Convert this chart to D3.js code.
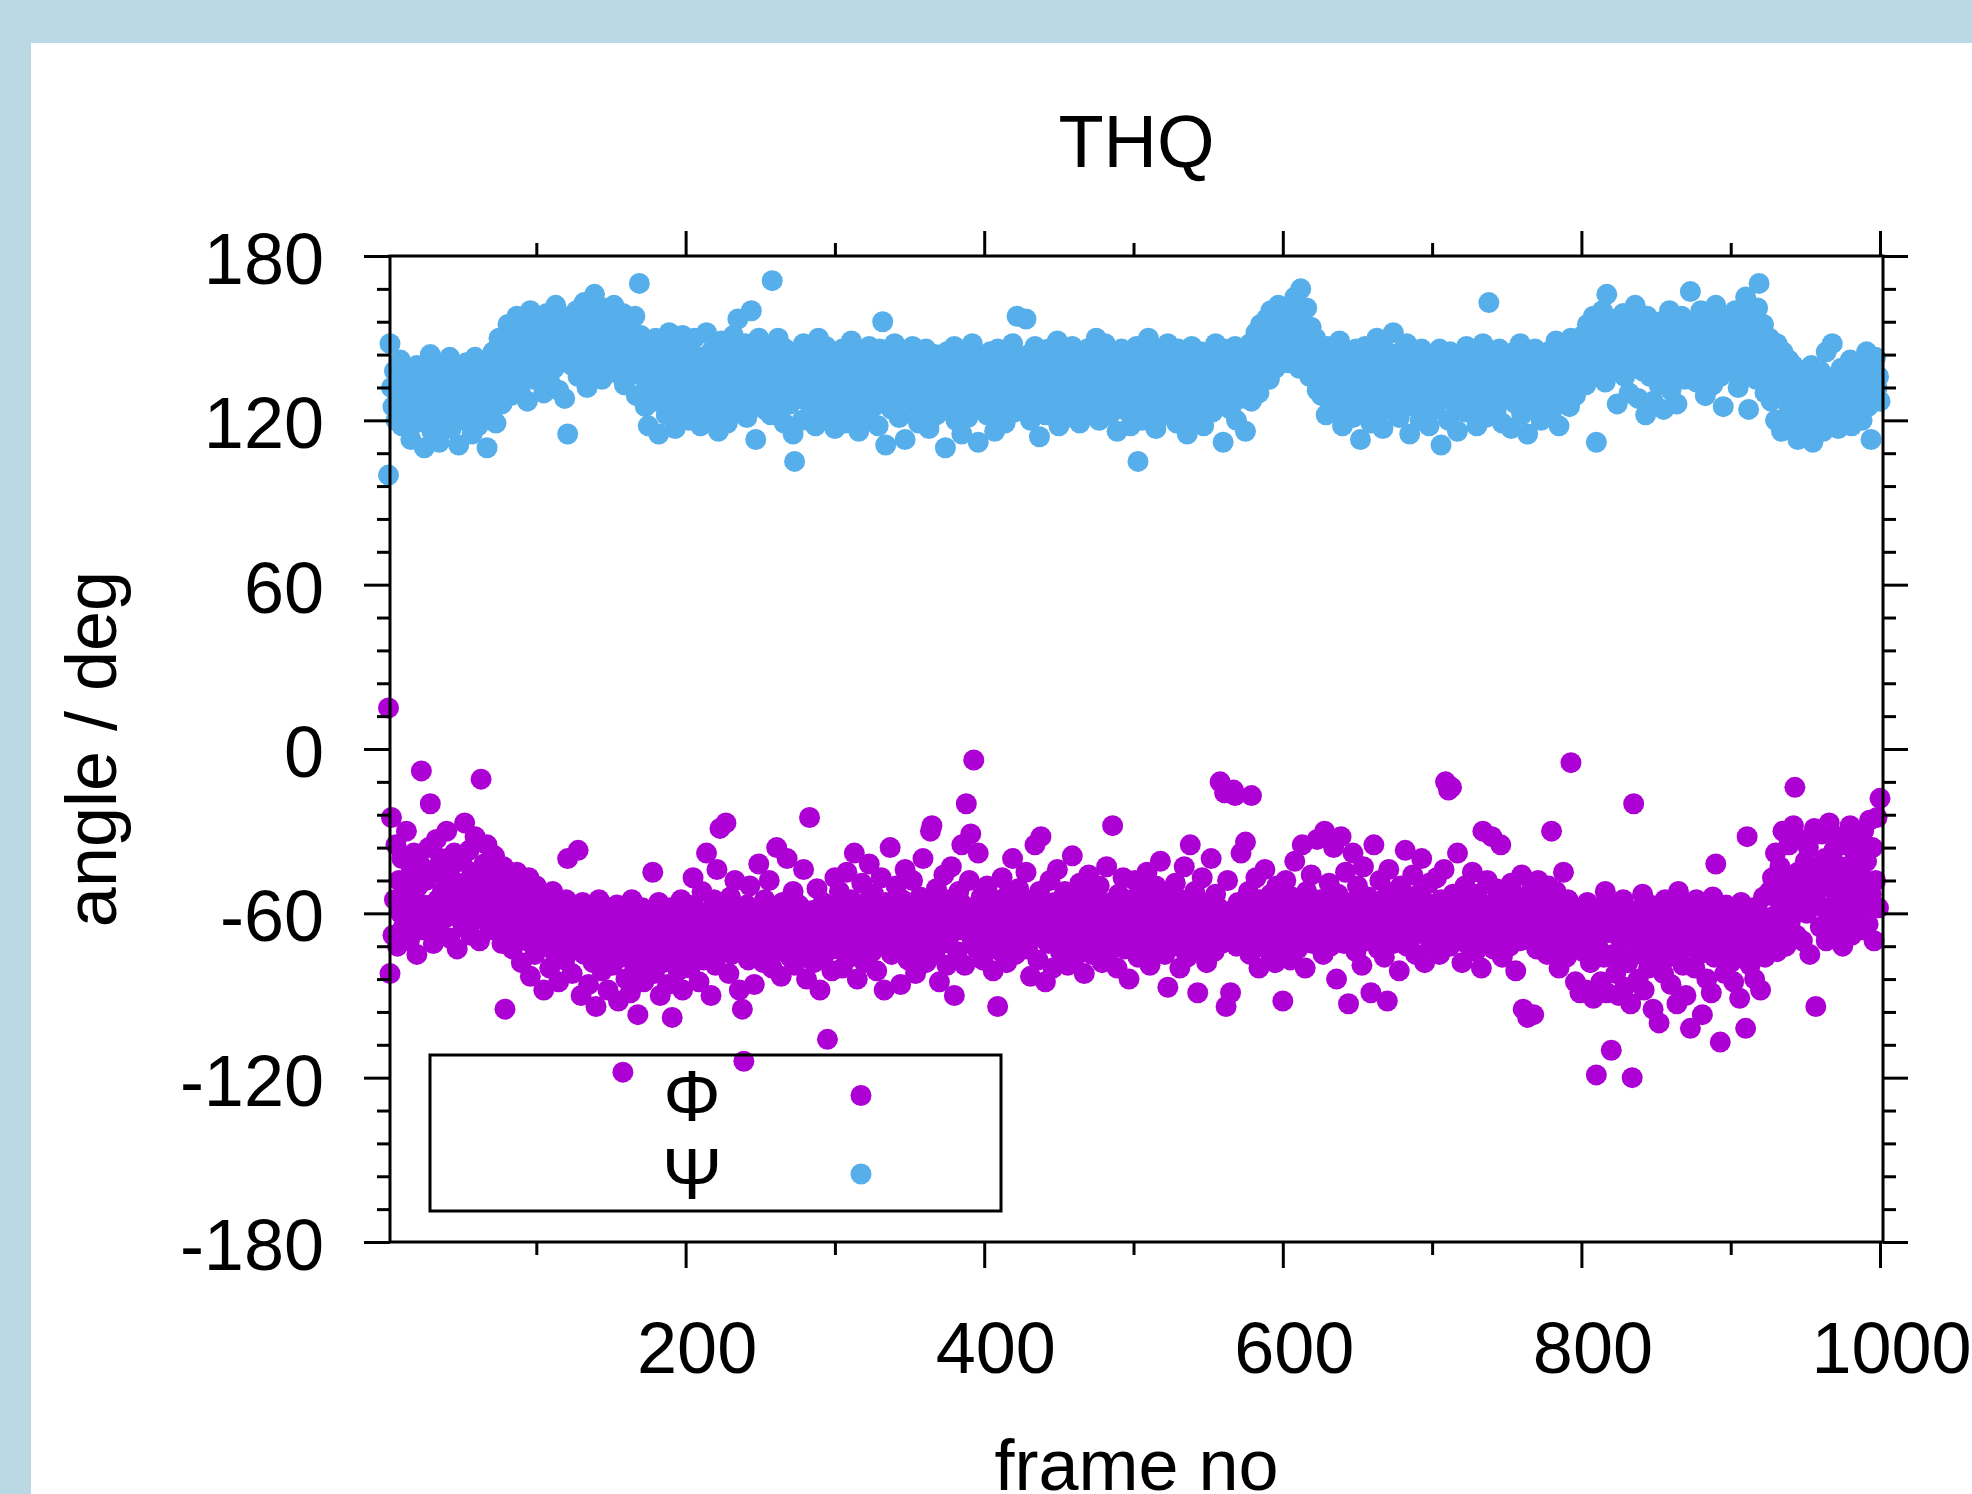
<!DOCTYPE html>
<html>
<head>
<meta charset="utf-8">
<script src="https://cdn.jsdelivr.net/npm/d3@7"></script>
<style>
  body { margin: 0; background: #bbd8e5; }
  svg { display: block; }
  text { font-family: "Liberation Sans", Arial, sans-serif; fill: #000; }
</style>
</head>
<body>
<div id="chart"></div>
<script>
// chart texts
const title = "THQ";
const xLabel = "frame no";
const yLabel = "angle / deg";
const seriesNames = ["Φ", "Ψ"];
const seriesColors = ["#ad00d4", "#56aeea"];

// ticks
const yMajorTicks = [-180, -120, -60, 0, 60, 120, 180];
const yMinorTicks = [-168, -156, -144, -132, -108, -96, -84, -72, -48, -36, -24, -12,
                     12, 24, 36, 48, 72, 84, 96, 108, 132, 144, 156, 168];
const xMajorTicks = [200, 400, 600, 800, 1000];
const xMinorTicks = [100, 300, 500, 700, 900];

// phi angle per frame (frames 1..1000)
const phi = [
  15,-82,-25,-68,-55,-35,-72,-48,-60,-40,-65,-52,-30,-58,-70,-45,-62,-38,-55,-75,-50,-42,-8,-66,-57,
  -48,-63,-36,-20,-58,-71,-44,-33,-55,-67,-40,-52,-62,-47,-30,-57,-69,-43,-54,-38,-61,-73,-49,-56,-41,
  -65,-27,-50,-59,-37,-68,-45,-53,-32,-62,-48,-70,-11,-55,-42,-60,-35,-51,-66,-44,-57,-39,-63,-52,-46,
  -58,-71,-43,-95,-54,-66,-48,-60,-73,-50,-62,-45,-67,-55,-78,-52,-64,-58,-70,-47,-83,-61,-56,-75,-50,
  -66,-59,-72,-54,-88,-63,-70,-57,-80,-65,-52,-74,-68,-60,-85,-58,-71,-62,-77,-55,-40,-69,-64,-82,-57,
  -73,-61,-37,-68,-90,-56,-75,-64,-70,-86,-59,-67,-78,-62,-94,-71,-55,-66,-81,-60,-74,-69,-88,-58,-65,
  -79,-63,-72,-57,-92,-68,-76,-118,-61,-84,-70,-65,-89,-55,-73,-80,-62,-97,-68,-75,-58,-85,-66,-71,-60,
  -77,-64,-45,-82,-69,-73,-56,-90,-63,-78,-67,-60,-86,-72,-58,-98,-66,-74,-62,-81,-70,-55,-88,-65,-76,
  -68,-57,-80,-63,-47,-74,-66,-59,-85,-70,-52,-77,-64,-38,-72,-61,-90,-67,-55,-79,-44,-65,-29,-73,-58,
  -69,-27,-62,-82,-54,-75,-66,-48,-71,-60,-88,-64,-95,-114,-68,-57,-77,-50,-63,-73,-86,-59,-67,-42,-70,
  -61,-78,-55,-66,-72,-48,-64,-80,-58,-69,-36,-74,-62,-83,-56,-67,-71,-40,-60,-76,-65,-52,-79,-63,-70,
  -57,-68,-74,-44,-61,-84,-66,-25,-72,-59,-78,-63,-51,-70,-88,-65,-56,-75,-62,-106,-69,-58,-81,-64,-47,
  -60,-73,-52,-66,-80,-57,-70,-45,-63,-76,-55,-68,-38,-61,-84,-58,-72,-49,-65,-78,-56,-69,-42,-62,-74,
  -53,-67,-81,-59,-71,-47,-64,-88,-56,-70,-62,-36,-75,-58,-66,-50,-73,-61,-86,-55,-68,-44,-63,-77,-57,
  -70,-48,-65,-82,-59,-72,-54,-67,-40,-61,-78,-56,-69,-30,-28,-64,-75,-51,-62,-85,-58,-71,-46,-66,-79,
  -55,-68,-43,-63,-90,-60,-74,-52,-66,-35,-57,-79,-20,-62,-48,-31,-70,-4,-59,-73,-38,-65,-54,-77,-61,
  -67,-50,-72,-58,-64,-81,-55,-69,-94,-61,-74,-47,-66,-58,-78,-53,-70,-63,-40,-59,-75,-66,-51,-71,-62,
  -57,-68,-45,-73,-60,-83,-55,-66,-35,-64,-77,-52,-32,-69,-61,-85,-58,-71,-48,-65,-80,-56,-67,-44,-62,
  -74,-59,-70,-52,-64,-79,-57,-68,-39,-63,-76,-55,-66,-49,-72,-60,-82,-58,-69,-46,-63,-75,-54,-67,-60,
  -71,-50,-65,-78,-57,-68,-43,-62,-74,-56,-28,-66,-59,-80,-53,-69,-62,-47,-73,-58,-65,-84,-55,-70,-61,
  -48,-67,-76,-58,-63,-52,-71,-60,-45,-68,-79,-56,-64,-73,-50,-62,-69,-41,-66,-58,-75,-54,-87,-63,-70,
  -57,-66,-49,-72,-61,-80,-55,-68,-43,-64,-76,-59,-35,-70,-62,-52,-67,-89,-58,-73,-47,-65,-60,-78,-56,
  -69,-40,-63,-74,-53,-66,-58,-12,-71,-61,-16,-94,-48,-67,-89,-59,-15,-17,-72,-56,-64,-38,-70,-60,-34,
  -66,-52,-75,-17,-58,-69,-47,-63,-80,-55,-71,-61,-44,-67,-59,-74,-53,-65,-62,-78,-50,-68,-57,-72,-92,
  -64,-48,-70,-59,-77,-54,-66,-41,-61,-73,-56,-68,-35,-63,-80,-52,-67,-60,-46,-71,-58,-64,-33,-69,-55,
  -62,-75,-30,-57,-66,-49,-72,-60,-36,-64,-84,-53,-68,-32,-59,-71,-45,-63,-93,-56,-67,-38,-61,-74,-50,
  -65,-58,-79,-43,-62,-70,-54,-66,-89,-60,-35,-68,-57,-73,-48,-63,-55,-76,-61,-92,-44,-67,-59,-71,-52,
  -64,-57,-81,-50,-66,-60,-37,-72,-55,-63,-69,-46,-58,-75,-62,-53,-67,-40,-60,-78,-56,-65,-49,-71,-61,
  -58,-70,-47,-63,-75,-55,-67,-44,-12,-61,-15,-72,-14,-53,-66,-59,-38,-69,-56,-78,-62,-50,-71,-64,-57,
  -68,-45,-60,-74,-53,-65,-58,-80,-30,-62,-70,-48,-66,-57,-32,-73,-61,-51,-67,-59,-35,-76,-63,-55,-69,
  -60,-72,-49,-66,-58,-81,-54,-64,-70,-46,-95,-62,-57,-98,-68,-52,-65,-97,-59,-73,-48,-63,-71,-56,-67,
  -61,-75,-50,-64,-30,-58,-69,-52,-66,-80,-57,-71,-45,-63,-76,-55,-68,-5,-60,-72,-85,-58,-66,-89,-62,
  -74,-63,-88,-56,-69,-78,-60,-91,-66,-119,-72,-58,-85,-64,-76,-52,-89,-67,-61,-110,-75,-57,-82,-68,-90,
  -62,-73,-55,-87,-66,-78,-60,-93,-120,-20,-70,-59,-84,-65,-75,-53,-88,-68,-62,-80,-57,-72,-95,-64,-77,
  -59,-100,-71,-63,-82,-55,-67,-76,-61,-86,-58,-70,-64,-93,-52,-74,-66,-79,-60,-90,-68,-57,-102,-72,-63,
  -80,-55,-69,-75,-61,-97,-66,-58,-84,-71,-63,-89,-54,-76,-42,-68,-60,-107,-73,-65,-82,-57,-70,-62,-78,
  -66,-85,-59,-72,-64,-91,-56,-75,-68,-102,-32,-62,-79,-70,-58,-84,-65,-73,-60,-88,-67,-54,-76,-63,-71,
  -52,-69,-47,-61,-38,-74,-55,-43,-66,-30,-58,-72,-49,-35,-63,-53,-28,-14,-68,-45,-57,-33,-70,-50,-41,
  -60,-36,-75,-48,-56,-29,-94,-52,-44,-65,-31,-58,-40,-70,-50,-27,-62,-46,-37,-67,-54,-32,-59,-43,-72,
  -49,-35,-63,-55,-28,-68,-45,-38,-60,-52,-33,-66,-47,-30,-57,-41,-64,-26,-53,-36,-70,-48,-25,-58,-18
];

// psi angle per frame (frames 1..1000)
const psi = [
  100,148,132,125,138,120,128,135,142,118,130,126,122,139,134,113,128,131,119,140,136,124,127,133,110,
  129,137,121,144,116,132,126,140,123,112,135,128,119,131,138,125,143,117,130,122,134,127,111,139,126,
  133,120,141,128,124,137,115,130,143,126,118,135,129,121,140,132,110,127,136,123,145,131,119,134,150,
  138,126,142,147,133,155,140,129,152,145,136,158,148,131,143,157,139,150,127,146,160,141,135,153,144,
  149,137,156,142,130,151,159,145,134,148,154,139,162,146,131,150,157,143,128,153,115,147,158,140,152,
  145,160,136,149,155,141,163,147,132,152,158,138,144,166,151,140,156,146,135,161,149,143,157,139,154,
  148,162,141,153,137,150,145,159,133,147,155,140,152,144,138,158,129,146,170,151,136,143,125,149,118,
  140,132,145,127,150,138,115,142,134,129,147,122,139,152,131,126,144,117,136,148,128,135,151,123,141,
  133,120,146,137,128,150,124,140,135,118,143,131,126,152,138,122,145,130,147,127,139,116,134,149,125,
  141,132,119,146,136,128,151,123,138,157,130,144,126,135,148,121,140,133,160,127,142,113,137,150,129,
  145,131,124,139,147,134,122,171,143,128,136,150,125,141,133,119,146,130,138,126,144,115,105,137,129,
  142,135,120,148,131,127,140,136,123,145,132,118,139,150,128,143,134,121,147,130,137,125,141,133,117,
  144,129,138,124,146,132,119,140,135,127,149,122,137,143,130,116,145,133,126,141,136,120,147,131,139,
  125,142,133,118,146,129,156,137,111,140,130,144,124,135,148,127,139,121,143,132,136,113,145,128,138,
  131,147,123,140,134,119,143,129,137,125,146,132,117,141,135,128,144,122,138,130,142,126,133,110,145,
  136,124,139,131,147,120,134,142,127,115,138,132,144,121,136,129,148,125,140,133,112,143,131,137,126,
  141,122,135,145,128,138,116,133,146,130,124,140,136,119,143,127,137,131,148,123,139,158,129,134,142,
  125,136,157,131,144,120,138,133,147,126,140,114,135,129,143,122,137,146,131,124,139,134,128,149,118,
  141,133,126,145,137,121,139,130,147,124,136,142,128,119,144,132,138,125,146,131,123,140,135,129,150,
  134,120,143,137,127,148,131,139,122,145,133,126,141,116,137,129,146,124,135,140,130,143,118,138,132,
  125,147,105,139,133,120,144,136,128,150,124,138,131,143,117,135,140,127,145,132,122,137,148,129,134,
  141,126,136,119,146,131,138,124,143,130,115,139,134,147,127,121,142,136,129,145,133,118,140,125,137,
  144,130,123,138,148,132,126,141,135,112,146,129,137,143,124,139,131,147,120,136,142,128,145,134,116,
  140,133,148,127,143,136,152,141,130,155,145,138,150,157,142,135,160,148,153,139,145,162,150,156,144,
  158,147,152,141,160,149,155,165,146,153,139,168,157,143,150,161,148,136,154,144,140,150,131,145,138,
  129,143,135,122,147,133,140,126,138,145,131,124,149,136,118,142,130,137,127,144,133,121,139,146,128,
  136,113,141,130,147,125,138,132,119,144,135,128,150,123,140,133,117,146,129,137,124,143,131,152,126,
  139,134,121,145,130,137,127,148,132,115,141,136,125,143,129,138,120,146,133,127,140,135,118,144,131,
  137,124,142,130,146,111,135,128,140,133,120,145,131,138,126,143,116,136,129,141,134,123,147,132,137,
  125,139,144,130,118,136,142,127,148,133,121,140,163,135,129,145,131,124,138,146,132,119,141,136,128,
  143,130,117,137,145,126,139,133,148,122,136,141,128,115,144,131,138,125,146,134,129,140,120,137,143,
  132,127,145,138,123,141,135,149,130,118,143,136,128,146,133,139,125,150,142,134,129,147,138,144,136,
  151,140,133,155,145,137,149,158,142,112,153,146,139,160,148,134,166,152,143,157,138,150,145,126,155,
  141,149,159,136,153,145,130,157,147,139,162,150,128,144,155,138,148,122,158,143,136,151,127,146,154,
  140,133,156,147,124,152,138,145,160,131,149,143,155,126,150,137,158,144,135,153,141,148,167,139,156,
  146,134,152,143,160,137,149,129,155,145,139,158,133,150,162,141,147,136,154,125,151,143,157,138,146,
  153,140,160,148,132,156,144,150,137,165,147,124,158,139,152,143,135,161,170,149,141,155,130,146,138,
  150,127,143,135,120,148,132,139,116,145,128,137,122,142,131,118,140,126,134,113,138,124,130,115,136,
  121,133,127,140,112,135,125,130,119,138,128,116,134,145,123,131,126,148,120,136,129,117,133,139,124,
  130,122,137,126,142,118,133,128,140,124,131,135,120,138,127,145,125,134,113,139,129,143,132,136,127
];

const frames = phi.map((d, i) => i + 1);

// page size and plot frame
const width = 1972;
const height = 1494;
const plot = { left: 390, right: 1883, top: 256, bottom: 1242 };
const fontSize = 72;

const svg = d3.select("#chart")
    .append("svg")
    .attr("width", width)
    .attr("height", height);

// light blue surround and white panel
svg.append("rect")
    .attr("width", width)
    .attr("height", height)
    .attr("fill", "#bbd8e5");
svg.append("rect")
    .attr("x", 31)
    .attr("y", 43)
    .attr("width", width - 31)
    .attr("height", height - 43)
    .attr("fill", "#ffffff");

const x = d3.scaleLinear()
    .domain([2, 1002])
    .range([plot.left, plot.right]);

const y = d3.scaleLinear()
    .domain([-180, 180])
    .range([plot.bottom, plot.top]);

// points
const series = [phi, psi];
series.forEach((values, s) => {
    svg.append("g")
        .selectAll("circle")
        .data(values)
        .enter()
        .append("circle")
        .attr("cx", (d, i) => x(frames[i]))
        .attr("cy", d => y(d))
        .attr("r", 10.5)
        .attr("fill", seriesColors[s]);
});

// plain hyphen minus, like gnuplot
const plainNum = d => String(d);

// axes: ticks outward on all four sides
function styleAxis(g) {
    g.select(".domain").remove();
    g.selectAll(".tick line").attr("stroke", "#000").attr("stroke-width", 3);
    g.selectAll(".tick text")
        .attr("font-size", fontSize)
        .attr("font-family", "\"Liberation Sans\", Arial, sans-serif")
        .attr("fill", "#000");
}

svg.append("g")
    .attr("transform", `translate(${plot.left},0)`)
    .call(d3.axisLeft(y).tickValues(yMajorTicks).tickSize(26).tickPadding(40).tickFormat(plainNum))
    .call(styleAxis)
    .call(g => g.selectAll(".tick text").attr("dy", "0.38em"));

svg.append("g")
    .attr("transform", `translate(${plot.left},0)`)
    .call(d3.axisLeft(y).tickValues(yMinorTicks).tickSize(13).tickFormat(""))
    .call(styleAxis);

svg.append("g")
    .attr("transform", `translate(${plot.right},0)`)
    .call(d3.axisRight(y).tickValues(yMajorTicks).tickSize(25).tickFormat(""))
    .call(styleAxis);

svg.append("g")
    .attr("transform", `translate(${plot.right},0)`)
    .call(d3.axisRight(y).tickValues(yMinorTicks).tickSize(13).tickFormat(""))
    .call(styleAxis);

svg.append("g")
    .attr("transform", `translate(0,${plot.bottom})`)
    .call(d3.axisBottom(x).tickValues(xMajorTicks).tickSize(26).tickPadding(54).tickFormat(plainNum))
    .call(styleAxis)
    .call(g => g.selectAll(".tick text").attr("dx", 11));

svg.append("g")
    .attr("transform", `translate(0,${plot.bottom})`)
    .call(d3.axisBottom(x).tickValues(xMinorTicks).tickSize(13).tickFormat(""))
    .call(styleAxis);

svg.append("g")
    .attr("transform", `translate(0,${plot.top})`)
    .call(d3.axisTop(x).tickValues(xMajorTicks).tickSize(25).tickFormat(""))
    .call(styleAxis);

svg.append("g")
    .attr("transform", `translate(0,${plot.top})`)
    .call(d3.axisTop(x).tickValues(xMinorTicks).tickSize(13).tickFormat(""))
    .call(styleAxis);

// plot border
svg.append("rect")
    .attr("x", plot.left)
    .attr("y", plot.top)
    .attr("width", plot.right - plot.left)
    .attr("height", plot.bottom - plot.top)
    .attr("fill", "none")
    .attr("stroke", "#000")
    .attr("stroke-width", 3);

// titles
svg.append("text")
    .attr("x", (plot.left + plot.right) / 2)
    .attr("y", 167)
    .attr("text-anchor", "middle")
    .attr("font-size", 74)
    .text(title);

svg.append("text")
    .attr("x", (plot.left + plot.right) / 2)
    .attr("y", 1490)
    .attr("text-anchor", "middle")
    .attr("font-size", fontSize)
    .text(xLabel);

svg.append("text")
    .attr("transform", `translate(116,${(plot.top + plot.bottom) / 2}) rotate(-90)`)
    .attr("text-anchor", "middle")
    .attr("font-size", fontSize)
    .text(yLabel);

// legend
const legend = svg.append("g");
legend.append("rect")
    .attr("x", 430)
    .attr("y", 1055)
    .attr("width", 571)
    .attr("height", 156)
    .attr("fill", "none")
    .attr("stroke", "#000")
    .attr("stroke-width", 3);

const rowY = [1095.5, 1174];
seriesNames.forEach((name, i) => {
    legend.append("text")
        .attr("x", 692)
        .attr("y", rowY[i] + 25)
        .attr("text-anchor", "middle")
        .attr("font-size", fontSize)
        .text(name);
    legend.append("circle")
        .attr("cx", 861)
        .attr("cy", rowY[i])
        .attr("r", 10.5)
        .attr("fill", seriesColors[i]);
});
</script>
</body>
</html>
